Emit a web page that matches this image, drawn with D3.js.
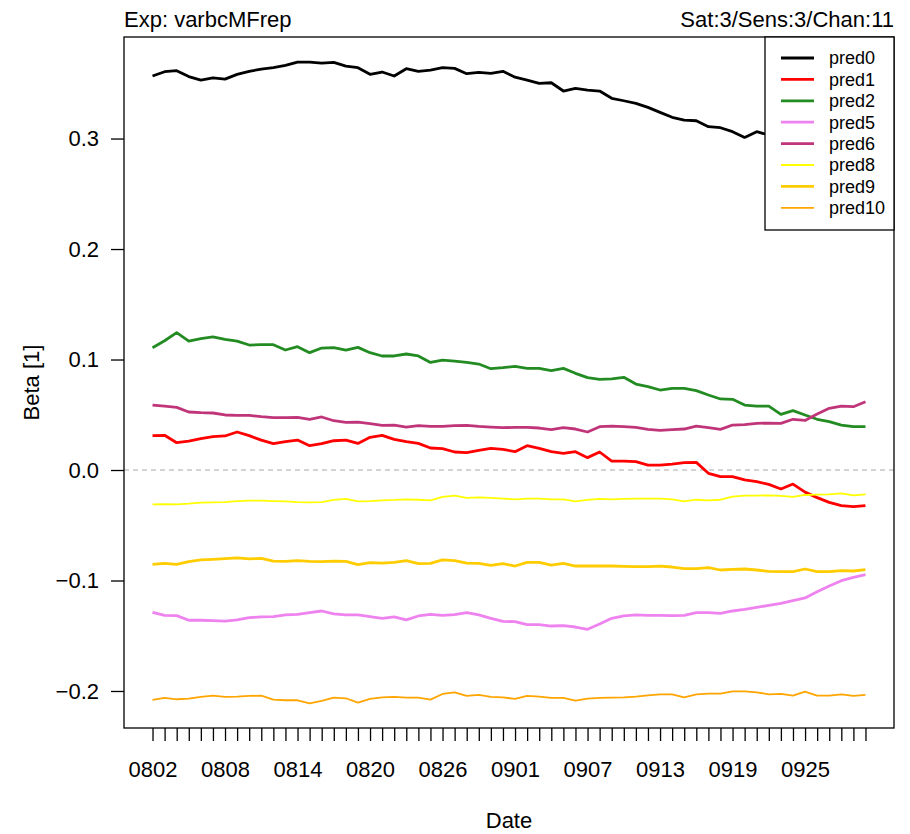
<!DOCTYPE html>
<html>
<head>
<meta charset="utf-8">
<script src="https://cdn.jsdelivr.net/npm/d3@7"></script>
<style>
  body { margin: 0; background: #fff; }
  svg text { font-family: "Liberation Sans", Arial, Helvetica, sans-serif; fill: #000; }
</style>
</head>
<body>
<svg id="chart" width="910" height="834"></svg>
<script>
// dates, one per day
const dates = [
  '0802','0803','0804','0805','0806','0807','0808','0809','0810','0811',
  '0812','0813','0814','0815','0816','0817','0818','0819','0820','0821',
  '0822','0823','0824','0825','0826','0827','0828','0829','0830','0831',
  '0901','0902','0903','0904','0905','0906','0907','0908','0909','0910',
  '0911','0912','0913','0914','0915','0916','0917','0918','0919','0920',
  '0921','0922','0923','0924','0925','0926','0927','0928','0929','0930'
]
const dateLabels = ['0802','0808','0814','0820','0826','0901','0907','0913','0919','0925']
const yTicks = [-0.2, -0.1, 0.0, 0.1, 0.2, 0.3]

// pred0 runs behind the legend after 0922, values there not readable
const pred0 = [
  0.3566, 0.3605, 0.3614, 0.3561, 0.3529, 0.3550, 0.3538, 0.3581, 0.3608, 0.3629,
  0.3641, 0.3662, 0.3692, 0.3692, 0.3683, 0.3689, 0.3656, 0.3641, 0.3581, 0.3602,
  0.3566, 0.3632, 0.3608, 0.3620, 0.3641, 0.3635, 0.3587, 0.3599, 0.3590, 0.3608,
  0.3555, 0.3529, 0.3499, 0.3505, 0.3430, 0.3454, 0.3439, 0.3430, 0.3364, 0.3342,
  0.3318, 0.3282, 0.3237, 0.3192, 0.3167, 0.3161, 0.3107, 0.3098, 0.3062, 0.3010,
  0.3062, 0.3032, null, null, null, null, null, null, null, null
]
const pred1 = [
  0.0311, 0.0314, 0.0247, 0.0262, 0.0284, 0.0302, 0.0308, 0.0344, 0.0311, 0.0271,
  0.0238, 0.0256, 0.0271, 0.0220, 0.0238, 0.0265, 0.0271, 0.0241, 0.0296, 0.0314,
  0.0277, 0.0256, 0.0241, 0.0199, 0.0193, 0.0163, 0.0157, 0.0178, 0.0196, 0.0187,
  0.0166, 0.0220, 0.0196, 0.0166, 0.0151, 0.0166, 0.0112, 0.0163, 0.0081, 0.0081,
  0.0075, 0.0045, 0.0045, 0.0054, 0.0066, 0.0069, -0.0030, -0.0060, -0.0060, -0.0090,
  -0.0106, -0.0130, -0.0172, -0.0127, -0.0200, -0.0250, -0.0293, -0.0323, -0.0332, -0.0323
]
const pred2 = [
  0.1107, 0.1170, 0.1243, 0.1167, 0.1189, 0.1204, 0.1183, 0.1167, 0.1131, 0.1134,
  0.1134, 0.1086, 0.1116, 0.1062, 0.1104, 0.1107, 0.1086, 0.1110, 0.1062, 0.1032,
  0.1032, 0.1050, 0.1032, 0.0974, 0.0995, 0.0986, 0.0974, 0.0959, 0.0917, 0.0926,
  0.0938, 0.0920, 0.0920, 0.0899, 0.0920, 0.0875, 0.0836, 0.0821, 0.0824, 0.0839,
  0.0778, 0.0754, 0.0724, 0.0739, 0.0739, 0.0718, 0.0679, 0.0643, 0.0640, 0.0588,
  0.0579, 0.0579, 0.0504, 0.0537, 0.0498, 0.0459, 0.0437, 0.0407, 0.0392, 0.0392
]
const pred5 = [
  -0.1288, -0.1315, -0.1318, -0.1360, -0.1360, -0.1364, -0.1367, -0.1357, -0.1336, -0.1330,
  -0.1327, -0.1312, -0.1306, -0.1291, -0.1276, -0.1303, -0.1312, -0.1312, -0.1327, -0.1342,
  -0.1330, -0.1357, -0.1321, -0.1306, -0.1315, -0.1309, -0.1291, -0.1312, -0.1342, -0.1370,
  -0.1373, -0.1400, -0.1400, -0.1412, -0.1409, -0.1421, -0.1442, -0.1394, -0.1342, -0.1321,
  -0.1312, -0.1315, -0.1315, -0.1318, -0.1315, -0.1291, -0.1291, -0.1297, -0.1276, -0.1261,
  -0.1243, -0.1225, -0.1207, -0.1182, -0.1158, -0.1101, -0.1050, -0.1002, -0.0971, -0.0947
]
const pred6 = [
  0.0588, 0.0579, 0.0567, 0.0525, 0.0519, 0.0516, 0.0498, 0.0495, 0.0495, 0.0483,
  0.0474, 0.0474, 0.0477, 0.0459, 0.0480, 0.0446, 0.0431, 0.0434, 0.0419, 0.0404,
  0.0407, 0.0389, 0.0401, 0.0395, 0.0395, 0.0401, 0.0404, 0.0395, 0.0389, 0.0383,
  0.0386, 0.0386, 0.0380, 0.0365, 0.0383, 0.0371, 0.0344, 0.0392, 0.0398, 0.0392,
  0.0386, 0.0368, 0.0359, 0.0365, 0.0371, 0.0398, 0.0383, 0.0368, 0.0407, 0.0410,
  0.0422, 0.0425, 0.0422, 0.0459, 0.0449, 0.0507, 0.0558, 0.0579, 0.0573, 0.0618
]
const pred8 = [
  -0.0311, -0.0308, -0.0311, -0.0305, -0.0296, -0.0293, -0.0290, -0.0281, -0.0278, -0.0278,
  -0.0281, -0.0284, -0.0290, -0.0293, -0.0290, -0.0271, -0.0262, -0.0284, -0.0281, -0.0274,
  -0.0271, -0.0265, -0.0269, -0.0274, -0.0244, -0.0232, -0.0253, -0.0247, -0.0253, -0.0259,
  -0.0265, -0.0259, -0.0259, -0.0265, -0.0265, -0.0284, -0.0271, -0.0262, -0.0265, -0.0262,
  -0.0259, -0.0259, -0.0259, -0.0265, -0.0284, -0.0269, -0.0274, -0.0269, -0.0241, -0.0232,
  -0.0232, -0.0229, -0.0235, -0.0244, -0.0226, -0.0223, -0.0220, -0.0211, -0.0229, -0.0220
]
const pred9 = [
  -0.0854, -0.0845, -0.0854, -0.0830, -0.0814, -0.0808, -0.0802, -0.0796, -0.0805, -0.0799,
  -0.0824, -0.0827, -0.0821, -0.0827, -0.0830, -0.0824, -0.0827, -0.0857, -0.0839, -0.0842,
  -0.0836, -0.0821, -0.0848, -0.0845, -0.0814, -0.0821, -0.0842, -0.0845, -0.0863, -0.0848,
  -0.0869, -0.0836, -0.0836, -0.0860, -0.0845, -0.0869, -0.0869, -0.0869, -0.0869, -0.0872,
  -0.0875, -0.0875, -0.0869, -0.0878, -0.0893, -0.0893, -0.0884, -0.0905, -0.0899, -0.0896,
  -0.0905, -0.0917, -0.0920, -0.0920, -0.0896, -0.0920, -0.0920, -0.0911, -0.0914, -0.0902
]
const pred10 = [
  -0.2081, -0.2063, -0.2075, -0.2069, -0.2054, -0.2042, -0.2054, -0.2051, -0.2045, -0.2042,
  -0.2078, -0.2084, -0.2084, -0.2112, -0.2090, -0.2060, -0.2066, -0.2106, -0.2072, -0.2057,
  -0.2054, -0.2060, -0.2060, -0.2078, -0.2027, -0.2012, -0.2045, -0.2036, -0.2054, -0.2057,
  -0.2072, -0.2045, -0.2051, -0.2063, -0.2063, -0.2087, -0.2069, -0.2063, -0.2060, -0.2057,
  -0.2051, -0.2039, -0.2030, -0.2030, -0.2057, -0.2030, -0.2024, -0.2024, -0.2003, -0.2003,
  -0.2012, -0.2030, -0.2027, -0.2042, -0.2006, -0.2042, -0.2042, -0.2030, -0.2045, -0.2036
]

const series = [
  { name: 'pred0', values: pred0, color: '#000000', width: 2.8 },
  { name: 'pred1', values: pred1, color: '#ff0000', width: 2.8 },
  { name: 'pred2', values: pred2, color: '#228b22', width: 2.8 },
  { name: 'pred5', values: pred5, color: '#ee82ee', width: 2.8 },
  { name: 'pred6', values: pred6, color: '#c0357a', width: 2.8 },
  { name: 'pred8', values: pred8, color: '#ffff00', width: 1.8 },
  { name: 'pred9', values: pred9, color: '#ffcc00', width: 2.8 },
  { name: 'pred10', values: pred10, color: '#ffa500', width: 1.8 }
]

const svg = d3.select('#chart')
const plotLeft = 124, plotRight = 894, plotTop = 37, plotBottom = 728

const x = d3.scaleLinear()
  .domain([-0.04 * (dates.length - 1), (dates.length - 1) * 1.04])
  .range([plotLeft, plotRight])
const y = d3.scaleLinear()
  .domain([-0.2335, 0.3919])
  .range([plotBottom, plotTop])

// zero line
svg.append('line')
  .attr('x1', plotLeft).attr('x2', plotRight)
  .attr('y1', y(0)).attr('y2', y(0))
  .attr('stroke', '#aaaaaa')
  .attr('stroke-width', 1.2)
  .attr('stroke-dasharray', '5,4')

const line = d3.line()
  .defined(d => d != null)
  .x((d, i) => x(i))
  .y(d => y(d))

svg.append('g')
  .selectAll('path')
  .data(series)
  .enter().append('path')
  .attr('d', d => line(d.values))
  .attr('fill', 'none')
  .attr('stroke', d => d.color)
  .attr('stroke-width', d => d.width)
  .attr('stroke-linejoin', 'round')

// axes
const xAxis = d3.axisBottom(x)
  .tickValues(d3.range(dates.length))
  .tickSize(13)
  .tickPadding(20)
  .tickFormat(i => dateLabels.includes(dates[i]) ? dates[i] : '')
const gx = svg.append('g')
  .attr('transform', `translate(0,${plotBottom})`)
  .call(xAxis)
gx.select('.domain').remove()
gx.selectAll('line').attr('stroke-width', 1.3)
gx.selectAll('text').style('font-size', '22px')

const yAxis = d3.axisLeft(y)
  .tickValues(yTicks)
  .tickSize(13)
  .tickPadding(12)
  .tickFormat(d => d3.format('.1f')(d).replace('-', '\u2212'))
const gy = svg.append('g')
  .attr('transform', `translate(${plotLeft},0)`)
  .call(yAxis)
gy.select('.domain').remove()
gy.selectAll('line').attr('stroke-width', 1.3)
gy.selectAll('text').style('font-size', '22px')

// plot box
svg.append('rect')
  .attr('x', plotLeft).attr('y', plotTop)
  .attr('width', plotRight - plotLeft).attr('height', plotBottom - plotTop)
  .attr('fill', 'none')
  .attr('stroke', '#000')
  .attr('stroke-width', 1.3)

// titles
svg.append('text')
  .attr('x', plotLeft).attr('y', 27)
  .style('font-size', '22px')
  .text('Exp: varbcMFrep')
svg.append('text')
  .attr('x', plotRight).attr('y', 27)
  .attr('text-anchor', 'end')
  .style('font-size', '22px')
  .text('Sat:3/Sens:3/Chan:11')
svg.append('text')
  .attr('x', (plotLeft + plotRight) / 2).attr('y', 828)
  .attr('text-anchor', 'middle')
  .style('font-size', '22px')
  .text('Date')
svg.append('text')
  .attr('transform', `translate(39,${(plotTop + plotBottom) / 2}) rotate(-90)`)
  .attr('text-anchor', 'middle')
  .style('font-size', '22px')
  .text('Beta [1]')

// legend
const legend = svg.append('g')
legend.append('rect')
  .attr('x', 765).attr('y', plotTop)
  .attr('width', plotRight - 765).attr('height', 230 - plotTop)
  .attr('fill', '#fff')
  .attr('stroke', '#000')
  .attr('stroke-width', 1.3)

const item = legend.selectAll('.item')
  .data(series)
  .enter().append('g')
  .attr('transform', (d, i) => `translate(0,${58 + i * 21.4})`)
item.append('line')
  .attr('x1', 781).attr('x2', 814)
  .attr('stroke', d => d.color)
  .attr('stroke-width', d => d.width)
item.append('text')
  .attr('x', 829)
  .attr('dy', '0.35em')
  .style('font-size', '18px')
  .text(d => d.name)
</script>
</body>
</html>
